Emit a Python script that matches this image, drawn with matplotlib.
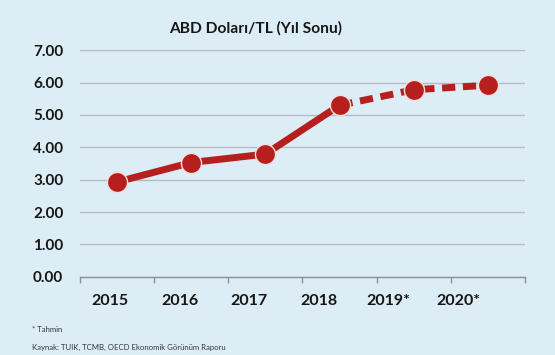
import matplotlib
matplotlib.use("Agg")
import matplotlib.pyplot as plt

categories = ["2015", "2016", "2017", "2018", "2019*", "2020*"]
values = [2.93, 3.53, 3.79, 5.30, 5.78, 5.92]
yticks = [0, 1, 2, 3, 4, 5, 6, 7]
title = "ABD Doları/TL (Yıl Sonu)"
note1 = "* Tahmin"
note2 = "Kaynak: TUIK, TCMB, OECD Ekonomik Görünüm Raporu"

plt.rcParams["font.family"] = ["Lato", "DejaVu Sans"]

bg = "#ddedf6"
red = "#b5201f"
txt = "#161616"

W, H = 555, 355
fig = plt.figure(figsize=(W/100, H/100), dpi=100, facecolor=bg)
ax = fig.add_axes([80/W, (H-276.7)/H, (525-80)/W, (276.7-50.3)/H])
ax.set_facecolor(bg)

x = list(range(len(categories)))
solid_n = 4
ax.plot(x[:solid_n], values[:solid_n], color=red, lw=5, solid_capstyle="round", zorder=3)
ax.plot(x[solid_n-1:], values[solid_n-1:], color=red, lw=5, ls=(0, (1.9, 1.1)), zorder=3)
ax.plot(x, values, ls="none", marker="o", ms=14.5, mfc=red, mec="#f6dede", mew=1.0, zorder=4)

ax.set_xlim(-0.5, len(categories) - 0.5)
ax.set_ylim(0, 7)
ax.set_yticks(yticks)
ax.set_yticklabels([f"{v:.2f}" for v in yticks], fontsize=11, fontweight="bold", color=txt)
ax.tick_params(axis="y", length=0, pad=12)
ax.set_xticks([i - 0.5 for i in range(len(categories) + 1)])
ax.set_xticklabels([])
ax.tick_params(axis="x", length=4, color="#8a9298", width=1)

ax.grid(axis="y", color="#b3bcc2", lw=1)
for s in ["top", "right", "left"]:
    ax.spines[s].set_visible(False)
ax.spines["bottom"].set_color("#8a9298")
ax.spines["bottom"].set_linewidth(1)
ax.set_axisbelow(True)

# category labels on a separate, invisible axis (labels are offset from the markers in the reference)
lab = fig.add_axes([75/W, (H-276.7)/H, (493-75)/W, (276.7-50.3)/H])
lab.patch.set_visible(False)
for s in lab.spines.values():
    s.set_visible(False)
lab.set_xlim(-0.5, len(categories) - 0.5)
lab.set_yticks([])
lab.set_xticks(x)
lab.set_xticklabels(categories, fontsize=11.5, fontweight="bold", color=txt)
lab.tick_params(axis="x", length=0, pad=12.5)

fig.text(256/W, 1 - 28/H, title, ha="center", va="center", fontsize=11.2, fontweight="bold", color=txt)
fig.text(32/W, 1 - 330/H, note1, ha="left", va="center", fontsize=5.6, color="#333333")
fig.text(32/W, 1 - 347/H, note2, ha="left", va="center", fontsize=5.6, color="#333333")

fig.savefig("out.png", dpi=100, facecolor=bg)
